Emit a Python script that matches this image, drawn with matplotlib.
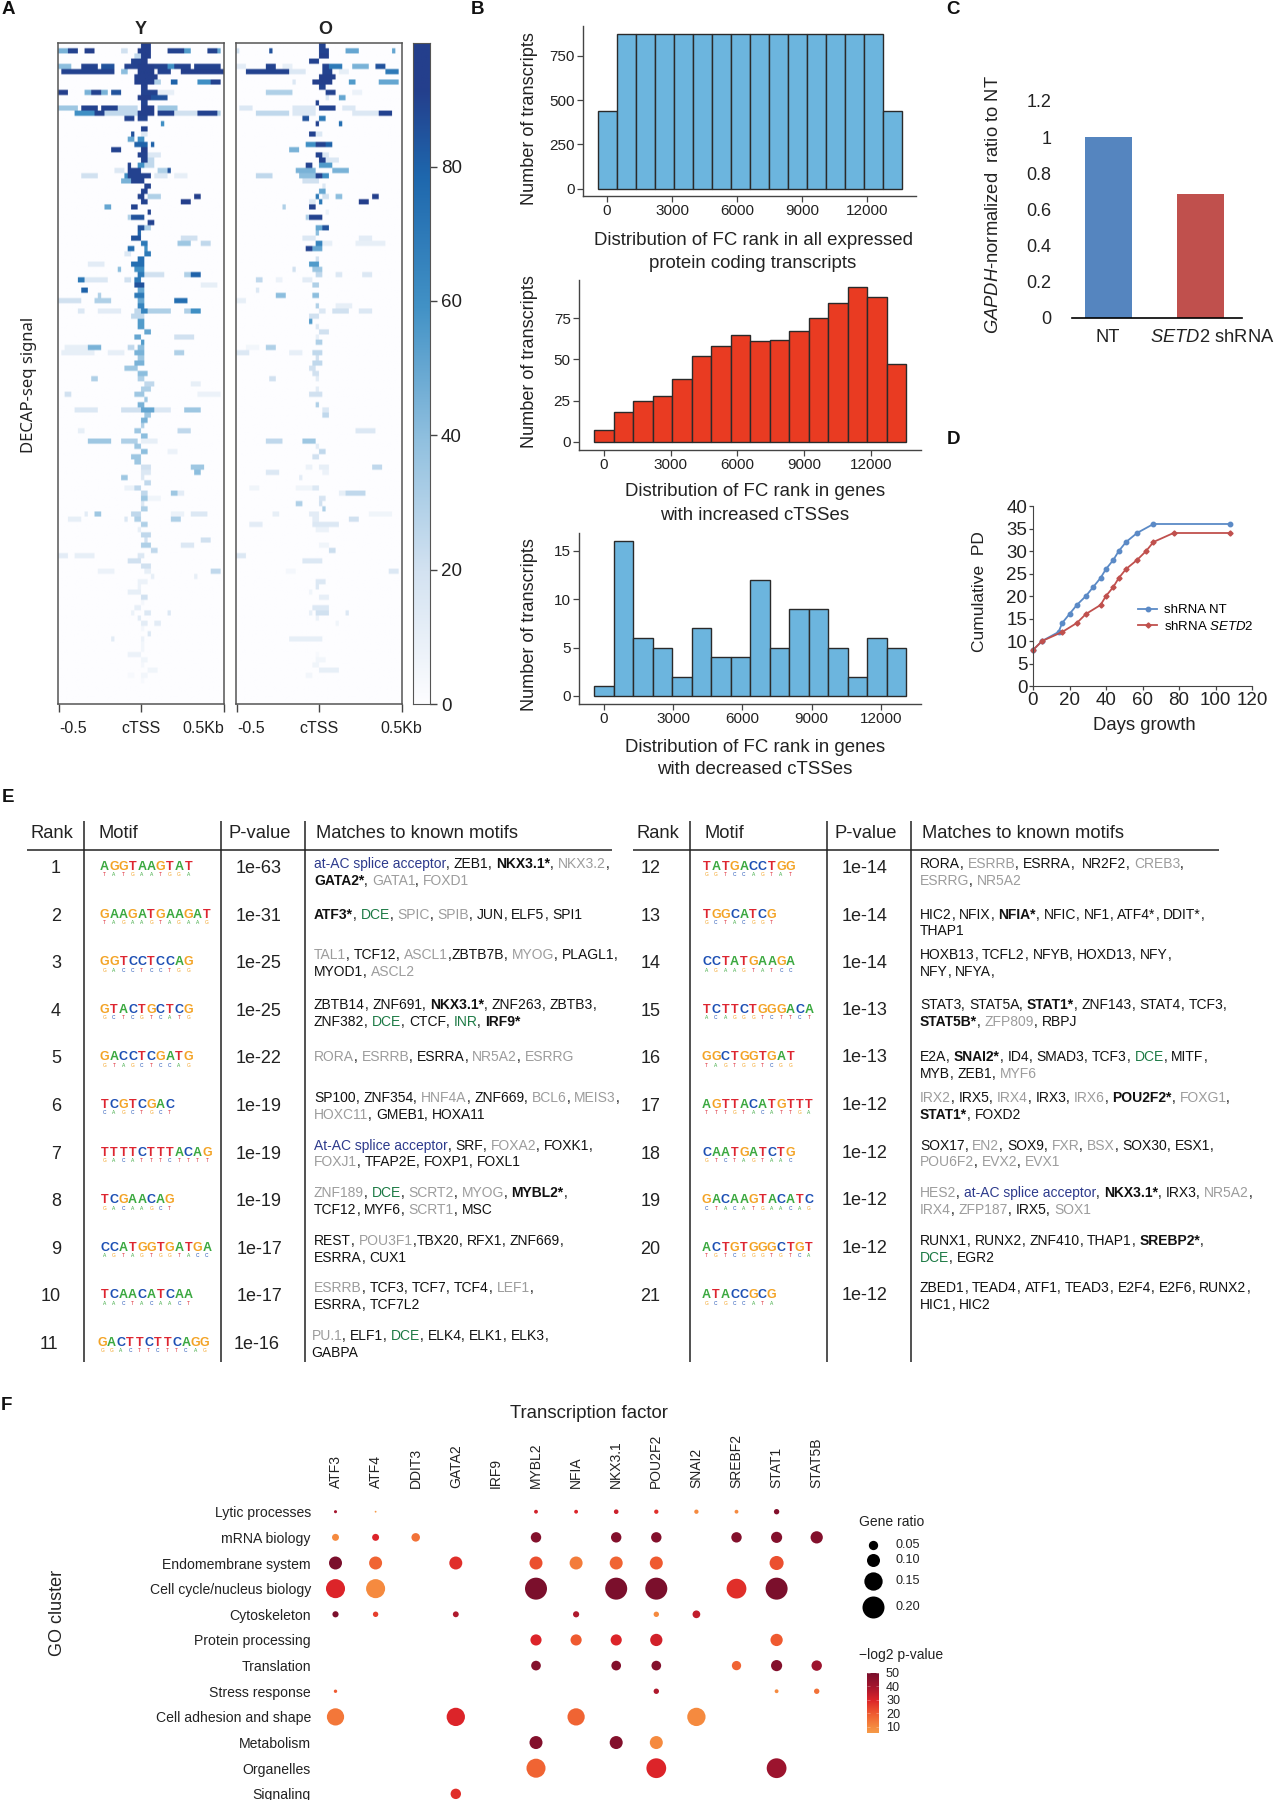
import re
import numpy as np
import matplotlib
matplotlib.use('Agg')
import matplotlib.pyplot as plt
from matplotlib.colors import LinearSegmentedColormap

plt.rcParams['font.family'] = ['Liberation Sans', 'DejaVu Sans']
plt.rcParams['mathtext.fontset'] = 'custom'
plt.rcParams['mathtext.rm'] = 'Liberation Sans'
plt.rcParams['mathtext.it'] = 'Liberation Sans:italic'
plt.rcParams['mathtext.default'] = 'regular'

W, H = 1274, 1800
DARK = '#222222'

# panel A, signal blocks: (row, first col, end col, value)
HEAT_ROWS, HEAT_COLS = 127, 50
HEAT_Y = [
    (0,25,28,95), (1,0,3,45), (1,3,6,90), (1,8,11,95), (1,19,21,20), (1,24,28,95), (1,33,38,90), (1,38,40,55), (1,45,48,90), (1,48,49,50),
    (2,23,25,25), (2,25,28,95), (3,22,25,90), (3,25,27,95),
    (4,0,4,40), (4,7,12,90), (4,13,17,85), (4,20,24,90), (4,24,29,95), (4,29,33,90), (4,33,35,60), (4,35,40,90), (4,41,49,90),
    (5,1,17,90), (5,19,21,40), (5,24,29,95), (5,30,34,90), (5,37,41,95), (5,41,50,95), (6,23,30,95),
    (7,23,29,95), (7,29,31,30), (7,34,36,80), (7,42,46,60), (7,46,49,90), (8,25,27,95),
    (9,0,3,95), (9,8,10,45), (9,10,13,90), (9,13,15,45), (9,16,19,85), (9,25,30,90), (9,30,35,10),
    (10,24,28,95), (10,28,33,85), (11,25,27,90),
    (12,0,6,35), (12,7,12,90), (12,13,18,90), (12,18,24,25), (12,25,29,95), (12,30,36,35),
    (13,5,8,60), (13,8,11,60), (13,11,14,90), (13,14,24,25), (13,24,29,95), (13,30,35,90), (13,35,42,20), (13,42,48,90), (13,48,49,30),
    (14,20,23,90), (14,24,27,90), (15,31,32,60), (16,25,27,90), (17,22,23,85), (17,25,27,15), (18,21,23,50), (18,24,26,60),
    (19,23,27,80), (19,28,29,80), (20,16,19,90), (20,25,27,95), (21,24,27,90), (21,27,31,15), (22,25,27,90), (22,27,29,25),
    (23,21,22,90), (23,24,26,60), (23,26,29,25), (24,17,20,15), (24,21,25,90), (24,30,33,30), (24,33,34,85),
    (25,7,12,20), (25,20,21,60), (25,21,26,90), (25,26,28,90), (25,29,33,15), (25,35,39,10), (26,19,22,45), (26,22,26,90),
    (27,26,28,90), (28,25,27,90), (29,24,26,90), (29,27,31,30), (29,41,43,95), (30,25,27,90), (30,37,40,95),
    (31,14,16,50), (31,22,24,90), (32,27,28,90), (33,21,22,30), (33,22,26,85), (34,27,29,90), (35,24,26,85), (35,26,28,30),
    (36,24,25,80), (37,22,25,85), (37,37,42,20), (38,25,27,70), (38,36,40,35), (38,43,46,25), (39,21,23,75), (39,26,27,60),
    (40,20,22,15), (40,26,28,70), (41,24,26,75), (42,9,14,12), (42,22,26,75), (43,18,19,40), (43,23,26,60),
    (44,24,26,70), (44,26,32,20), (44,38,40,30), (44,40,43,80), (45,6,8,70), (45,8,15,15), (45,20,22,20), (45,23,25,70),
    (46,23,26,85), (46,43,48,10), (47,7,9,80), (47,24,26,50), (48,12,13,30), (48,23,26,70), (49,0,7,20), (49,11,16,30), (49,24,26,50), (49,35,39,75),
    (50,24,26,65), (51,6,8,15), (51,12,19,12), (51,23,25,25), (51,25,27,65), (51,27,34,30), (51,38,40,30), (51,40,43,60),
    (52,22,26,25), (53,24,26,55), (54,24,26,55), (55,26,28,50), (56,23,25,50), (56,35,41,20), (57,25,26,55),
    (58,2,9,10), (58,9,13,45), (58,21,23,25), (58,24,26,40), (59,1,11,10), (59,15,20,10), (59,23,26,45), (59,35,38,30),
    (60,24,26,35), (61,23,26,45), (62,20,24,35), (63,24,27,40), (64,10,12,30), (64,24,26,30), (65,26,29,25), (65,40,43,10),
    (66,25,28,30), (67,2,4,20), (67,23,26,35), (67,42,49,8), (68,26,27,35), (69,24,26,45),
    (70,5,12,15), (70,19,25,20), (70,25,29,50), (70,29,34,15), (70,38,43,35), (71,26,28,35), (72,25,27,45), (73,25,26,30),
    (74,6,8,10), (74,23,25,35), (74,36,40,25), (75,25,27,40), (76,9,16,35), (76,19,24,30), (76,25,30,10), (77,23,25,35),
    (78,25,27,40), (78,33,36,8), (79,22,25,35), (80,23,25,35), (81,25,28,20), (81,40,44,35), (82,25,28,15), (82,41,43,40),
    (83,19,21,35), (83,25,26,15), (84,26,28,25), (85,20,23,8), (85,23,25,25), (86,25,27,25), (86,34,36,35), (86,36,38,12),
    (87,25,27,35), (87,27,31,6), (88,25,26,15), (89,25,27,30), (90,8,9,12), (90,11,13,35), (90,22,25,25), (90,34,38,8), (90,40,45,15),
    (91,3,7,10), (91,20,21,15), (91,23,25,30), (91,34,37,30), (92,25,27,30), (93,24,25,10), (94,25,28,25),
    (95,26,27,20), (95,43,46,20), (96,25,28,30), (96,37,41,15), (97,28,30,25), (98,0,3,12), (98,5,11,10), (98,24,26,15),
    (99,21,25,20), (100,25,28,20), (101,12,17,8), (101,26,28,10), (101,46,49,25), (102,28,29,10), (102,41,42,10),
    (103,24,27,8), (104,24,25,8), (105,21,25,10), (106,25,27,20), (107,25,26,4), (108,23,25,10), (109,22,23,8), (109,26,28,15), (109,33,34,15),
    (110,24,25,12), (111,25,27,12), (111,29,31,12), (112,25,26,4), (113,27,28,15), (114,16,17,12), (114,25,26,8), (115,25,26,5), (116,25,26,5),
    (117,21,25,8), (118,25,27,6), (119,25,26,4), (120,27,30,6), (121,21,23,3), (121,25,27,5), (122,25,26,3),
]
HEAT_O = [
    (0,25,27,90), (1,0,1,20), (1,10,11,85), (1,25,28,90), (1,33,37,50), (1,47,48,50), (2,25,28,95), (3,22,25,90),
    (4,0,3,12), (4,9,12,90), (4,14,17,10), (4,26,28,90), (4,28,32,70), (4,35,40,45), (4,42,45,85),
    (5,3,16,90), (5,16,21,15), (5,26,29,90), (5,31,34,10), (5,45,49,70), (6,25,30,95),
    (7,17,18,15), (7,23,29,95), (7,34,36,55), (7,43,49,50), (8,25,27,90), (9,9,17,30), (9,27,30,90), (9,35,38,8),
    (10,27,28,15), (10,31,33,50), (11,24,25,90), (12,1,5,15), (12,17,24,15), (12,25,30,90), (12,32,36,15),
    (13,6,16,25), (13,17,24,15), (13,35,43,15), (13,43,47,90), (14,20,22,85), (14,25,27,70), (15,24,25,90), (15,31,32,75),
    (17,22,24,90), (17,24,26,15), (19,21,24,60), (19,24,27,90), (19,27,29,80), (20,16,19,45), (21,24,26,90), (21,26,28,15),
    (22,25,27,90), (22,27,31,15), (23,21,23,90), (23,25,29,55), (24,18,24,45), (24,29,34,45),
    (25,6,11,25), (25,19,24,40), (25,24,26,90), (25,26,28,60), (26,20,25,20), (27,26,27,15), (28,25,27,50),
    (29,24,25,70), (29,26,28,20), (29,30,32,40), (29,41,43,95), (30,22,24,15), (30,25,26,70), (30,37,40,95),
    (31,14,15,30), (31,22,24,90), (32,27,28,8), (33,21,22,30), (33,22,26,90), (35,24,26,50), (35,26,28,85), (36,24,25,40),
    (37,20,24,15), (37,37,41,12), (38,24,26,65), (38,26,29,10), (38,36,45,10), (39,21,23,90), (39,23,26,50), (41,24,25,20),
    (42,22,25,55), (43,17,18,20), (43,23,26,35), (44,24,26,25), (44,30,32,15), (44,38,41,15), (45,6,8,25), (45,12,14,8), (45,20,23,12),
    (46,23,25,30), (47,6,7,15), (48,12,15,40), (48,23,25,40), (49,0,3,10), (50,24,25,30), (50,30,35,10),
    (51,25,27,15), (51,29,34,20), (51,37,41,15), (52,22,25,20), (53,22,23,55), (54,24,25,15), (55,25,28,20), (56,24,25,10), (57,24,26,30),
    (58,3,7,5), (58,9,12,30), (59,0,4,15), (59,16,20,10), (59,23,26,25), (60,24,25,20), (61,23,26,25), (62,22,24,20), (63,23,25,20),
    (64,10,12,20), (64,24,25,12), (66,24,25,12), (67,22,26,20), (69,24,25,30), (70,26,28,15), (71,26,28,25),
    (74,36,42,15), (76,9,14,25), (76,20,24,35), (77,24,25,12), (78,25,27,25), (79,23,25,20),
    (81,21,23,8), (81,25,28,10), (81,41,44,25), (82,9,13,15), (82,26,28,8), (83,19,20,12), (85,4,7,6), (85,18,23,6), (85,23,25,15),
    (86,31,33,10), (86,33,39,25), (87,25,27,18), (88,18,20,30), (88,25,26,20), (89,26,27,30), (90,11,13,10), (90,22,25,12), (90,40,47,6),
    (91,23,25,12), (91,34,37,20), (92,4,8,12), (92,23,31,15), (93,24,28,8), (96,25,28,6), (97,28,30,22), (98,0,3,15),
    (99,20,26,15), (101,15,18,4), (101,46,49,15), (103,24,27,15), (104,24,25,15), (105,22,23,6), (106,25,28,10),
    (108,23,28,15), (109,22,23,10), (109,24,28,20), (109,33,34,15), (110,24,25,8), (111,30,31,6), (114,16,26,10),
    (117,24,25,3), (118,24,27,5), (119,23,25,6), (120,25,31,10), (121,21,23,5),
]
HEAT_TICKS = [0, 20, 40, 60, 80]

# panel B
RANK_TICKS = [0, 3000, 6000, 9000, 12000]
ALL_COUNTS = [440, 875, 875, 875, 875, 875, 875, 875, 875, 875, 875, 875, 875, 875, 875, 440]
UP_COUNTS = [7, 18, 25, 28, 38, 52, 58, 65, 61, 62, 67, 75, 84, 94, 88, 47]
DOWN_COUNTS = [1, 16, 6, 5, 2, 7, 4, 4, 12, 5, 9, 9, 5, 2, 6, 5]
ALL_BIN, UP_BIN, DOWN_BIN = 877, 877, 845

# panel C
KD_NAMES = ['NT', r'$\mathit{SETD2}$ shRNA']
KD_VALUES = [1.0, 0.685]
KD_TICKS = [0, 0.2, 0.4, 0.6, 0.8, 1, 1.2]
KD_TICKLABELS = ['0', '0.2', '0.4', '0.6', '0.8', '1', '1.2']

# panel D
NT_DAYS = [0, 5, 14, 16, 20, 24, 29, 33, 37, 40, 44, 47, 51, 57, 66, 108]
NT_PD = [8, 10, 12, 14, 16, 18, 20, 22, 24, 26, 28, 30, 32, 34, 36, 36]
KD_DAYS = [0, 5, 16, 24, 29, 37, 40, 44, 47, 51, 57, 62, 66, 77, 108]
KD_PD = [8, 10, 12, 14, 16, 18, 20, 22, 24, 26, 28, 30, 32, 34, 34]

# panel E, prefix marks the style: # bold, ~ grey, ^ green, @ navy
LEFT_MOTIFS = ['AGGTAAGTAT', 'GAAGATGAAGAT', 'GGTCCTCCAG', 'GTACTGCTCG', 'GACCTCGATG', 'TCGTCGAC',
               'TTTTCTTTACAG', 'TCGAACAG', 'CCATGGTGATGA', 'TCAACATCAA', 'GACTTCTTCAGG']
LEFT_PVALS = ['1e-63', '1e-31', '1e-25', '1e-25', '1e-22', '1e-19', '1e-19', '1e-19', '1e-17', '1e-17', '1e-16']
LEFT_MATCHES = [
    ['@at-AC splice acceptor, ZEB1, #NKX3.1*, ~NKX3.2,', '#GATA2*, ~GATA1, ~FOXD1'],
    ['#ATF3*, ^DCE, ~SPIC, ~SPIB, JUN, ELF5, SPI1'],
    ['~TAL1, TCF12, ~ASCL1,ZBTB7B, ~MYOG, PLAGL1,', 'MYOD1, ~ASCL2'],
    ['ZBTB14, ZNF691, #NKX3.1*, ZNF263, ZBTB3,', 'ZNF382, ^DCE, CTCF, ^INR, #IRF9*'],
    ['~RORA, ~ESRRB, ESRRA, ~NR5A2, ~ESRRG'],
    ['SP100, ZNF354, ~HNF4A, ZNF669, ~BCL6, ~MEIS3,', '~HOXC11, GMEB1, HOXA11'],
    ['@At-AC splice acceptor, SRF, ~FOXA2, FOXK1,', '~FOXJ1, TFAP2E, FOXP1, FOXL1'],
    ['~ZNF189, ^DCE, ~SCRT2, ~MYOG, #MYBL2*,', 'TCF12, MYF6, ~SCRT1, MSC'],
    ['REST, ~POU3F1,TBX20, RFX1, ZNF669,', 'ESRRA, CUX1'],
    ['~ESRRB, TCF3, TCF7, TCF4, ~LEF1,', 'ESRRA, TCF7L2'],
    ['~PU.1, ELF1, ^DCE, ELK4, ELK1, ELK3,', 'GABPA'],
]
RIGHT_MOTIFS = ['TATGACCTGG', 'TGGCATCG', 'CCTATGAAGA', 'TCTTCTGGGACA', 'GGCTGGTGAT', 'AGTTACATGTTT',
                'CAATGATCTG', 'GACAAGTACATC', 'ACTGTGGGCTGT', 'ATACCGCG']
RIGHT_PVALS = ['1e-14', '1e-14', '1e-14', '1e-13', '1e-13', '1e-12', '1e-12', '1e-12', '1e-12', '1e-12']
RIGHT_MATCHES = [
    ['RORA, ~ESRRB, ESRRA,  NR2F2, ~CREB3,', '~ESRRG, ~NR5A2'],
    ['HIC2, NFIX, #NFIA*, NFIC, NF1, ATF4*, DDIT*,', 'THAP1'],
    ['HOXB13, TCFL2, NFYB, HOXD13, NFY,', 'NFY, NFYA,'],
    ['STAT3, STAT5A, #STAT1*, ZNF143, STAT4, TCF3,', '#STAT5B*, ~ZFP809, RBPJ'],
    ['E2A, #SNAI2*, ID4, SMAD3, TCF3, ^DCE, MITF,', 'MYB, ZEB1, ~MYF6'],
    ['~IRX2, IRX5, ~IRX4, IRX3, ~IRX6, #POU2F2*, ~FOXG1,', '#STAT1*, FOXD2'],
    ['SOX17, ~EN2, SOX9, ~FXR, ~BSX, SOX30, ESX1,', '~POU6F2, ~EVX2, ~EVX1'],
    ['~HES2, @at-AC splice acceptor, #NKX3.1*, IRX3, ~NR5A2,', '~IRX4, ~ZFP187, IRX5, ~SOX1'],
    ['RUNX1, RUNX2, ZNF410, THAP1, #SREBP2*,', '^DCE, EGR2'],
    ['ZBED1, TEAD4, ATF1, TEAD3, E2F4, E2F6, RUNX2,', 'HIC1, HIC2'],
]

# panel F
TF_NAMES = ['ATF3', 'ATF4', 'DDIT3', 'GATA2', 'IRF9', 'MYBL2', 'NFIA', 'NKX3.1', 'POU2F2', 'SNAI2', 'SREBF2', 'STAT1', 'STAT5B']
GO_NAMES = ['Lytic processes', 'mRNA biology', 'Endomembrane system', 'Cell cycle/nucleus biology', 'Cytoskeleton',
            'Protein processing', 'Translation', 'Stress response', 'Cell adhesion and shape', 'Metabolism', 'Organelles', 'Signaling']
# (GO cluster, TF, gene ratio, -log2 p)
GO_DOTS = [
    ('Lytic processes', 'ATF3', .01, 40), ('Lytic processes', 'ATF4', .002, 6), ('Lytic processes', 'MYBL2', .015, 32), ('Lytic processes', 'NFIA', .015, 30),
    ('Lytic processes', 'NKX3.1', .02, 33), ('Lytic processes', 'POU2F2', .018, 28), ('Lytic processes', 'SNAI2', .018, 10), ('Lytic processes', 'SREBF2', .015, 10), ('Lytic processes', 'STAT1', .025, 48),
    ('mRNA biology', 'ATF3', .035, 10), ('mRNA biology', 'ATF4', .035, 30), ('mRNA biology', 'DDIT3', .045, 15), ('mRNA biology', 'MYBL2', .065, 48), ('mRNA biology', 'NKX3.1', .065, 48),
    ('mRNA biology', 'POU2F2', .065, 48), ('mRNA biology', 'SREBF2', .065, 48), ('mRNA biology', 'STAT1', .075, 48), ('mRNA biology', 'STAT5B', .09, 48),
    ('Endomembrane system', 'ATF3', .10, 50), ('Endomembrane system', 'ATF4', .10, 18), ('Endomembrane system', 'GATA2', .10, 28), ('Endomembrane system', 'MYBL2', .10, 22),
    ('Endomembrane system', 'NFIA', .10, 13), ('Endomembrane system', 'NKX3.1', .10, 18), ('Endomembrane system', 'POU2F2', .10, 20), ('Endomembrane system', 'STAT1', .11, 22),
    ('Cell cycle/nucleus biology', 'ATF3', .16, 30), ('Cell cycle/nucleus biology', 'ATF4', .16, 10), ('Cell cycle/nucleus biology', 'MYBL2', .20, 50), ('Cell cycle/nucleus biology', 'NKX3.1', .20, 50),
    ('Cell cycle/nucleus biology', 'POU2F2', .20, 50), ('Cell cycle/nucleus biology', 'SREBF2', .17, 28), ('Cell cycle/nucleus biology', 'STAT1', .20, 50),
    ('Cytoskeleton', 'ATF3', .03, 50), ('Cytoskeleton', 'ATF4', .025, 25), ('Cytoskeleton', 'GATA2', .028, 38), ('Cytoskeleton', 'NFIA', .03, 38), ('Cytoskeleton', 'POU2F2', .025, 10), ('Cytoskeleton', 'SNAI2', .04, 35),
    ('Protein processing', 'MYBL2', .075, 30), ('Protein processing', 'NFIA', .075, 20), ('Protein processing', 'NKX3.1', .075, 30), ('Protein processing', 'POU2F2', .09, 32), ('Protein processing', 'STAT1', .09, 20),
    ('Translation', 'MYBL2', .055, 48), ('Translation', 'NKX3.1', .055, 48), ('Translation', 'POU2F2', .055, 48), ('Translation', 'SREBF2', .05, 18), ('Translation', 'STAT1', .075, 48), ('Translation', 'STAT5B', .065, 42),
    ('Stress response', 'ATF3', .012, 20), ('Stress response', 'POU2F2', .025, 38), ('Stress response', 'STAT1', .015, 10), ('Stress response', 'STAT5B', .025, 15),
    ('Cell adhesion and shape', 'ATF3', .14, 14), ('Cell adhesion and shape', 'GATA2', .15, 30), ('Cell adhesion and shape', 'NFIA', .14, 18), ('Cell adhesion and shape', 'SNAI2', .15, 10),
    ('Metabolism', 'MYBL2', .10, 48), ('Metabolism', 'NKX3.1', .10, 48), ('Metabolism', 'POU2F2', .10, 10),
    ('Organelles', 'MYBL2', .16, 18), ('Organelles', 'POU2F2', .17, 30), ('Organelles', 'STAT1', .17, 42),
    ('Signaling', 'GATA2', .065, 28),
]
RATIO_LEGEND = [0.05, 0.10, 0.15, 0.20]
P_TICKS = [10, 20, 30, 40, 50]

heat_cmap = LinearSegmentedColormap.from_list('heat', [(0, '#fdfdff'), (0.2, '#d3e2f1'), (0.4, '#90c0df'), (0.6, '#4292c6'), (0.8, '#1e67ad'), (0.93, '#243f8c'), (1, '#243f8c')])
p_cmap = LinearSegmentedColormap.from_list('pv', [(0, '#f69a48'), (0.1, '#f58a3f'), (0.325, '#ef5a30'), (0.548, '#dc2429'), (0.77, '#a5162e'), (1, '#7a0f2c')])


def ax_px(x0, y0, x1, y1):
    a = fig.add_axes([x0 / W, 1 - y1 / H, (x1 - x0) / W, (y1 - y0) / H])
    a.set_facecolor('none')
    return a


def T(x, y, s, size=12, **kw):
    kw.setdefault('ha', 'center')
    kw.setdefault('va', 'center')
    return pax.text(x, y, s, fontsize=size, color=kw.pop('color', DARK), **kw)


def heat_panel(box, spans, title, title_x, label_ha):
    grid = np.zeros((HEAT_ROWS, HEAT_COLS))
    for r, c0, c1, v in spans:
        grid[r, c0:c1] = v
    ax = ax_px(*box)
    # repeat the cells so bilinear only softens their edges
    fine = np.repeat(np.repeat(grid, 3, axis=0), 3, axis=1)
    ax.imshow(fine, cmap=heat_cmap, vmin=0, vmax=98.4, aspect='auto', interpolation='bilinear',
              extent=[-0.5, HEAT_COLS - 0.5, HEAT_ROWS - 0.5, -0.5])
    ax.set_yticks([])
    ax.set_xticks([-0.2, 24.5, 49.4])
    ax.set_xticklabels(['-0.5', 'cTSS', '0.5Kb'], fontsize=11.5)
    for lab, ha in zip(ax.get_xticklabels(), label_ha):
        lab.set_ha(ha)
    ax.tick_params(axis='x', length=6, width=1, color='#444444', pad=6, labelcolor=DARK)
    for s in ax.spines.values():
        s.set_color('#555555')
        s.set_linewidth(1.1)
    T(title_x, 30, title, 13, fontweight='bold')
    return ax


def hist_panel(box, counts, bin_w, color, xlim, ylim, yticks):
    ax = ax_px(*box)
    ax.bar(bin_w * np.arange(len(counts)), counts, width=bin_w, color=color, edgecolor='#2a2a2a', linewidth=1.0)
    ax.set_xlim(*xlim)
    ax.set_ylim(*ylim)
    ax.set_xticks(RANK_TICKS)
    ax.set_yticks(yticks)
    ax.tick_params(length=4.5, width=0.9, color='#444444', labelsize=11, pad=1.5, labelcolor=DARK)
    for s in ['top', 'right']:
        ax.spines[s].set_visible(False)
    for s in ['left', 'bottom']:
        ax.spines[s].set_color('#444444')
        ax.spines[s].set_linewidth(1.0)
    return ax


def draw_match_line(x, base, line, size=10):
    for name, delim in re.findall(r'([^,]+)(,?\s*)', line):
        kw = {'color': '#111111', 'fontweight': 'normal'}
        if name[0] == '#':
            kw['fontweight'] = 'bold'
            name = name[1:]
        elif name[0] == '~':
            kw['color'] = '#9c9c9c'
            name = name[1:]
        elif name[0] == '^':
            kw['color'] = '#1d7a45'
            name = name[1:]
        elif name[0] == '@':
            kw['color'] = '#2d3a8c'
            name = name[1:]
        t = pax.text(x, base, name, fontsize=size, ha='left', va='baseline', **kw)
        x += t.get_window_extent(renderer).width - 0.2
        if ',' in delim:
            pax.text(x, base, ',', fontsize=size, ha='left', va='baseline', color='#111111')
            x += 3.9
        x += 3.9 * delim.count(' ')


def draw_logo(x, y, motif):
    # big letters plus the small lower stack of the sequence logo
    for i, (ch, low) in enumerate(zip(motif, motif[::-1])):
        pax.text(x + (i + 0.5) * 9.3, y + 1, ch, fontsize=9, ha='center', va='center',
                 color=LOGO_COLORS[ch], fontweight='bold')
        pax.text(x + (i + 0.5) * 9.3, y + 9, low, fontsize=3.5, ha='center', va='center',
                 color=LOGO_COLORS[low])


LOGO_COLORS = {'A': '#3aa83f', 'C': '#1c4fb4', 'G': '#f3a325', 'T': '#dd2530'}

fig = plt.figure(figsize=(W / 100, H / 100), dpi=100, facecolor='white')
renderer = fig.canvas.get_renderer()

pax = fig.add_axes([0, 0, 1, 1])
pax.set_xlim(0, W)
pax.set_ylim(H, 0)
pax.axis('off')

for letter, lx, ly in [('A', 8, 10), ('B', 477, 9), ('C', 953, 9), ('D', 953, 440), ('E', 8, 797), ('F', 6, 1406)]:
    T(lx, ly, letter, 13.5, fontweight='bold', color='#111111')

# A
heat_panel((58, 43, 224, 704), HEAT_Y, 'Y', 141, ['left', 'center', 'right'])
heat_panel((236, 43, 402, 704), HEAT_O, 'O', 325, ['left', 'center', 'center'])
T(29, 385, 'DECAP-seq signal', 12, rotation=90, family='Noto Sans')
cax = ax_px(413, 43, 430, 704)
cax.imshow(np.linspace(98.4, 0, 256)[:, None], cmap=heat_cmap, vmin=0, vmax=98.4, aspect='auto', extent=[0, 1, 0, 98.4])
cax.set_xticks([])
cax.yaxis.tick_right()
cax.set_yticks(HEAT_TICKS)
cax.tick_params(axis='y', length=5, width=1, color='#444444', labelsize=13.5, pad=3, labelcolor=DARK)
for s in cax.spines.values():
    s.set_color('#555555')

# B
hist_panel((583, 26.4, 916, 196), ALL_COUNTS, ALL_BIN, '#6cb5de', (-1108, 14262), (-42, 917), [0, 250, 500, 750])
hist_panel((579, 279.6, 921, 450), UP_COUNTS, UP_BIN, '#e93b22', (-1124, 14258), (-4.85, 98.4), [0, 25, 50, 75])
hist_panel((579, 533, 921, 704), DOWN_COUNTS, DOWN_BIN, '#6cb5de', (-1084, 13743), (-0.83, 16.86), [0, 5, 10, 15])
for yc in [118.7, 362, 625]:
    T(529, yc, 'Number of transcripts', 13.1, rotation=90)
T(753, 240.5, 'Distribution of FC rank in all expressed', 13.4)
T(753, 263, 'protein coding transcripts', 13.4)
T(755, 492, 'Distribution of FC rank in genes', 13.4)
T(755, 515, 'with increased cTSSes', 13.4)
T(755, 748, 'Distribution of FC rank in genes', 13.4)
T(755, 770, 'with decreased cTSSes', 13.4)

# C
ax = ax_px(1072, 90, 1242, 318)
ax.bar(range(len(KD_VALUES)), KD_VALUES, width=0.51, color=['#5585bf', '#c0504d'])
ax.set_xlim(-0.397, 1.451)
ax.set_ylim(0, 1.26)
ax.set_yticks(KD_TICKS)
ax.set_yticklabels(KD_TICKLABELS)
ax.set_xticks([])
ax.tick_params(axis='y', length=0, pad=15, labelsize=13, labelcolor=DARK)
for s in ['top', 'right', 'left']:
    ax.spines[s].set_visible(False)
ax.spines['bottom'].set_linewidth(1.2)
for name, cx in zip(KD_NAMES, [1108, 1212]):
    T(cx, 337, name, 13.2)
T(994, 205, r'$\mathit{GAPDH}$-normalized  ratio to NT', 13.2, rotation=90)

# D
ax = ax_px(1033, 506, 1252, 686)
ax.plot(NT_DAYS, NT_PD, color='#5b8ac6', marker='o', markersize=3.2, linewidth=1.3, label='shRNA NT', clip_on=False)
ax.plot(KD_DAYS, KD_PD, color='#c0504d', marker='D', markersize=2.6, linewidth=1.3, label=r'shRNA $\mathit{SETD2}$', clip_on=False)
ax.set_xlim(0, 120)
ax.set_ylim(0, 40)
ax.set_xticks(range(0, 121, 20))
ax.set_yticks(range(0, 41, 5))
ax.tick_params(length=3, width=0.9, labelsize=13.5, pad=1, labelcolor=DARK, color='#444444')
for s in ['top', 'right']:
    ax.spines[s].set_visible(False)
for s in ['left', 'bottom']:
    ax.spines[s].set_color('#444444')
ax.legend(loc='upper left', bbox_to_anchor=(1138, 604), bbox_transform=pax.transData, frameon=False, fontsize=9.5,
          handlelength=1.44, handletextpad=0.55, labelspacing=0.25, borderpad=0, borderaxespad=0)
T(979, 592, 'Cumulative  PD', 12.5, rotation=90)
T(1144, 726, 'Days growth', 13.3)

# E
ROW_Y = [868.5 + 47.6 * i for i in range(11)]
for x0, x1, vlines in [(26.5, 612, [83.7, 221, 305]), (633, 1218.5, [689.5, 827, 911])]:
    pax.plot([x0, x1], [850, 850], color='#222222', lw=1.1, solid_capstyle='butt')
    for vx in vlines:
        pax.plot([vx, vx], [821, 1362], color='#222222', lw=1.1, solid_capstyle='butt')
for cx, lx, px, mx in [(52, 99, 228, 316), (657.5, 705, 834, 921.6)]:
    T(cx, 834, 'Rank', 13.2)
    T(lx, 834, 'Motif', 13.2, ha='left')
    T(px, 834, 'P-value', 13.2, ha='left')
    T(mx, 834, 'Matches to known motifs', 13.2, ha='left')

for i, (motif, pv, lines) in enumerate(zip(LEFT_MOTIFS, LEFT_PVALS, LEFT_MATCHES)):
    d = 2.5 if i == 10 else 0
    y = ROW_Y[i]
    T(61 - d, y, str(i + 1), 13, ha='right')
    draw_logo(100 - d, y - 2.5, motif)
    T(259 - d, y, pv, 13)
    yc = y - 2.5
    if len(lines) == 1:
        draw_match_line(314 - d, yc + 5, lines[0])
    else:
        y0 = yc - 3 if i == 0 else yc - 7
        if i == 3:
            y0 = yc - 5
        for j, ln in enumerate(lines):
            draw_match_line(314 - d, y0 + 5 + j * 16.7, ln)

for i, (motif, pv, lines) in enumerate(zip(RIGHT_MOTIFS, RIGHT_PVALS, RIGHT_MATCHES)):
    y = ROW_Y[i]
    yc = y - 2.5
    T(650.5, y, str(i + 12), 13)
    draw_logo(702, yc, motif)
    T(865, y - (1 if i >= 3 else 0), pv, 13)
    y0 = yc - 3 if i == 0 else yc if i in (1, 4) else yc - 7
    if i == 3:
        y0 = yc - 5
    for j, ln in enumerate(lines):
        draw_match_line(920, y0 + 5 + j * 16.7, ln)

# F
RATIO_PX = ([0, .05, .10, .15, .20], [1.5, 9.3, 13, 18.3, 22])


def dot_size(r):
    # legend circle diameters in px turned into scatter area
    return (np.interp(r, *RATIO_PX) * 0.72) ** 2


fax = ax_px(315, 1495, 840, 1800)
fax.scatter([TF_NAMES.index(d[1]) for d in GO_DOTS], [GO_NAMES.index(d[0]) for d in GO_DOTS],
            s=dot_size(np.array([d[2] for d in GO_DOTS])), c=[d[3] for d in GO_DOTS],
            cmap=p_cmap, vmin=5.5, vmax=50.2, linewidths=0, clip_on=False)
fax.set_xlim((315 - 335.5) / 40.1, (840 - 335.5) / 40.1)
fax.set_ylim((1800 - 1511.7) / 25.65, (1495 - 1511.7) / 25.65)
fax.xaxis.tick_top()
fax.set_xticks(range(len(TF_NAMES)))
fax.set_xticklabels(TF_NAMES, rotation=90, fontsize=10, color=DARK)
fax.set_yticks(range(len(GO_NAMES)))
fax.set_yticklabels(GO_NAMES, fontsize=10.1, color=DARK)
fax.tick_params(axis='y', length=0, pad=3)
fax.tick_params(axis='x', length=0, pad=5)
for s in fax.spines.values():
    s.set_visible(False)

T(589, 1414, 'Transcription factor', 13.4)
T(58, 1613, 'GO cluster', 13, rotation=90)
T(859, 1522, 'Gene ratio', 10, ha='left')
for r, ly in zip(RATIO_LEGEND, [1545, 1560, 1581, 1607]):
    pax.scatter([873], [ly], s=dot_size(r), color='black', linewidths=0)
    T(895, ly, f'{r:.2f}', 9.1, ha='left')
T(859, 1655, '\u2212log2 p-value', 10, ha='left')
pc = ax_px(867, 1672.7, 878.5, 1732.7)
pc.imshow(np.linspace(50.2, 5.5, 128)[:, None], cmap=p_cmap, vmin=5.5, vmax=50.2, aspect='auto', extent=[0, 1, 5.5, 50.2])
pc.set_xticks([])
pc.yaxis.tick_right()
pc.set_yticks(P_TICKS)
pc.tick_params(axis='y', direction='in', left=True, right=True, length=2, width=0.5, color='#ffffff66', labelsize=9.1, pad=5.4, labelcolor=DARK)
for s in pc.spines.values():
    s.set_visible(False)

fig.savefig('out.png', dpi=100)
